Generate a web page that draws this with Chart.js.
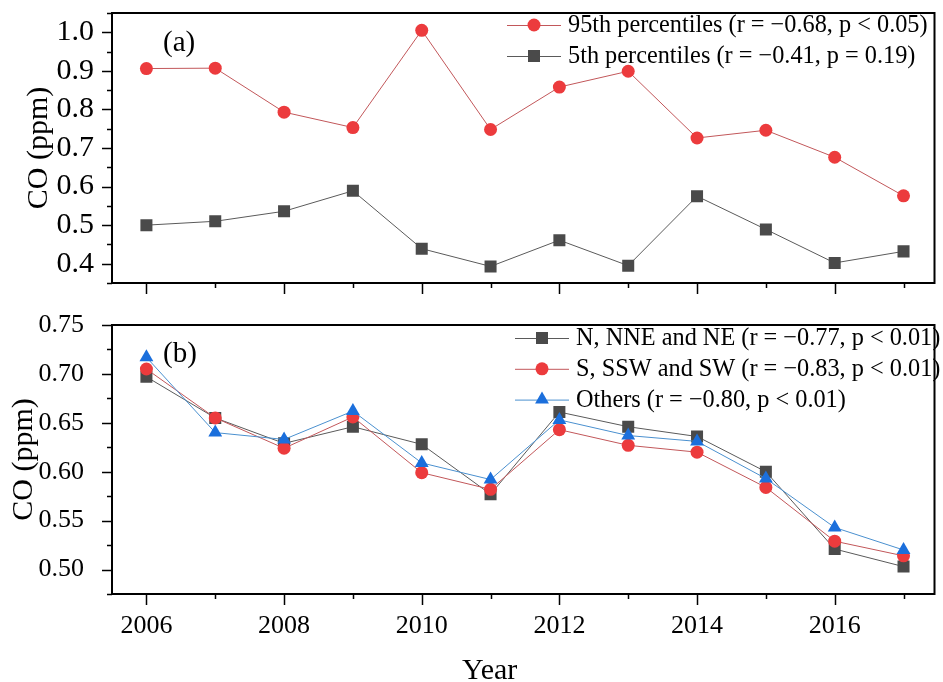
<!DOCTYPE html>
<html>
<head>
<meta charset="utf-8">
<script src="https://cdn.jsdelivr.net/npm/chart.js@4.4.0/dist/chart.umd.min.js"></script>
<style>
html, body { margin: 0; padding: 0; background: #fff; }
#wrap { position: relative; width: 943px; height: 682px; font-family: "Liberation Serif", "Times New Roman", serif; }
#topBox { position: absolute; left: 0; top: 0; width: 943px; height: 300px; }
#botBox { position: absolute; left: 0; top: 300px; width: 943px; height: 382px; }
.lbl { position: absolute; font-size: 29px; line-height: 1; color: #000; white-space: nowrap; }
</style>
</head>
<body>
<div id="wrap">
  <div id="topBox"><canvas id="chartA"></canvas></div>
  <div id="botBox"><canvas id="chartB"></canvas></div>
  <div class="lbl" style="left:163px;top:27px">(a)</div>
  <div class="lbl" style="left:163px;top:338px">(b)</div>
  <div class="lbl" style="left:462px;top:654px;font-size:30px">Year</div>
</div>
<script>
// years on the x axis
const years = [2006, 2007, 2008, 2009, 2010, 2011, 2012, 2013, 2014, 2015, 2016, 2017];

// panel (a): percentiles
const p95 = [0.906, 0.907, 0.793, 0.753, 1.005, 0.748, 0.858, 0.899, 0.726, 0.746, 0.676, 0.576];
const p5  = [0.500, 0.510, 0.536, 0.589, 0.439, 0.393, 0.461, 0.395, 0.575, 0.489, 0.402, 0.432];

// panel (b): wind sectors
const northNE = [0.697, 0.655, 0.629, 0.646, 0.628, 0.577, 0.661, 0.646, 0.636, 0.600, 0.521, 0.503];
const southSW = [0.705, 0.655, 0.624, 0.656, 0.599, 0.582, 0.643, 0.627, 0.620, 0.584, 0.529, 0.514];
const others  = [0.717, 0.640, 0.633, 0.662, 0.609, 0.592, 0.653, 0.637, 0.631, 0.593, 0.543, 0.520];

const labelsA = ['95th percentiles (r = \u22120.68, p < 0.05)', '5th percentiles (r = \u22120.41, p = 0.19)'];
const labelsB = ['N, NNE and NE (r = \u22120.77, p < 0.01)', 'S, SSW and SW (r = \u22120.83, p < 0.01)', 'Others (r = \u22120.80, p < 0.01)'];

const RED = '#ec3b3d', RED_LINE = '#c2575a';
const GRAY = '#4a4a4a', GRAY_LINE = '#5a5a5a';
const BLUE = '#1b6fdc', BLUE_LINE = '#4a90cf';
const FONT = '"Liberation Serif", "Times New Roman", serif';

const pts = vals => vals.map((v, i) => ({ x: years[i], y: v }));

function series(label, vals, color, line, style, r, order) {
  return {
    label, data: pts(vals), order,
    borderColor: line, borderWidth: 1,
    pointStyle: style, pointRadius: r, pointHoverRadius: r,
    pointBackgroundColor: color, pointBorderColor: color, pointBorderWidth: 0,
    tension: 0
  };
}

// frame, outward ticks, and a line+marker legend
const decor = {
  id: 'decor',
  afterDraw(chart, args, opts) {
    const ctx = chart.ctx, a = chart.chartArea;
    const xs = chart.scales.x, ys = chart.scales.y;
    ctx.save();
    ctx.strokeStyle = '#000';
    ctx.lineWidth = 2;
    ctx.strokeRect(a.left, a.top, a.right - a.left, a.bottom - a.top);
    ctx.lineWidth = 1.5;
    ctx.beginPath();
    ys.ticks.forEach(t => {
      const y = Math.round(ys.getPixelForValue(t.value)) + 0.5;
      const major = Math.abs(t.value / opts.yMajor - Math.round(t.value / opts.yMajor)) < 1e-6;
      const len = major ? 10 : 5;
      ctx.moveTo(a.left, y); ctx.lineTo(a.left - len, y);
    });
    xs.ticks.forEach(t => {
      if (!Number.isInteger(t.value)) return;
      const x = Math.round(xs.getPixelForValue(t.value)) + 0.5;
      const len = t.value % 2 === 0 ? 11 : 5;
      ctx.moveTo(x, a.bottom); ctx.lineTo(x, a.bottom + len);
    });
    ctx.stroke();

    // legend
    ctx.font = opts.legendFont + 'px ' + FONT;
    ctx.textBaseline = 'middle';
    ctx.textAlign = 'left';
    chart.data.datasets.forEach((ds, i) => {
      const y = opts.legendY + i * opts.legendStep;
      const x0 = opts.legendX;
      ctx.strokeStyle = ds.borderColor;
      ctx.lineWidth = 1;
      ctx.beginPath();
      ctx.moveTo(x0, y + 0.5); ctx.lineTo(x0 + 54, y + 0.5);
      ctx.stroke();
      ctx.fillStyle = ds.pointBackgroundColor;
      Chart.helpers.drawPoint(ctx, { pointStyle: ds.pointStyle, radius: ds.pointRadius, rotation: 0, borderWidth: 0 }, x0 + 27, y);
      ctx.fillStyle = '#000';
      ctx.fillText(ds.label, x0 + 61, y + 1);
    });
    ctx.restore();
  }
};

function makeChart(id, datasets, cfg) {
  return new Chart(document.getElementById(id), {
    type: 'line',
    data: { datasets },
    plugins: [decor],
    options: {
      responsive: true,
      maintainAspectRatio: false,
      animation: false,
      layout: { padding: { top: cfg.padTop, right: 4, left: 0, bottom: 0 } },
      plugins: {
        legend: { display: false },
        tooltip: { enabled: false },
        decor: cfg.decor
      },
      scales: {
        x: {
          type: 'linear', min: 2005.5, max: 2017.45,
          grid: { display: false }, border: { display: false },
          ticks: {
            stepSize: 1, autoSkip: false, maxRotation: 0, padding: cfg.xPad,
            includeBounds: false,
            display: cfg.xLabels,
            color: '#000', font: { family: FONT, size: cfg.xFont },
            callback: v => (Number.isInteger(v) && v % 2 === 0) ? String(v) : ''
          },
          afterFit: s => {
            s.height = cfg.xHeight;
            s.paddingLeft = 0; s.paddingRight = 0;
          }
        },
        y: {
          min: cfg.yMin, max: cfg.yMax,
          grid: { display: false }, border: { display: false },
          ticks: {
            stepSize: cfg.yStep, autoSkip: false, padding: cfg.yPad,
            color: '#000', font: { family: FONT, size: cfg.yFont },
            callback: v => {
              const k = v / cfg.yMajor;
              return Math.abs(k - Math.round(k)) < 1e-6 ? v.toFixed(cfg.dec) : '';
            }
          },
          title: {
            display: true, text: 'CO (ppm)', color: '#000',
            font: { family: FONT, size: 30 }, padding: { top: cfg.titlePad, bottom: 0 }
          },
          afterFit: s => {
            s.width = 112;
            s.paddingTop = 0; s.paddingBottom = 0;
          }
        }
      }
    }
  });
}

makeChart('chartA', [
  series(labelsA[0], p95, RED, RED_LINE, 'circle', 6.5, 1),
  series(labelsA[1], p5, GRAY, GRAY_LINE, 'rect', 8.5, 2)
], {
  padTop: 13, xHeight: 17, xLabels: false, xPad: 0, xFont: 26,
  yMin: 0.35, yMax: 1.05, yStep: 0.05, yMajor: 0.1, dec: 1, yFont: 30, yPad: 10, titlePad: 21,
  decor: { yMajor: 0.1, legendX: 507, legendY: 25, legendStep: 31, legendFont: 24.3 }
});

makeChart('chartB', [
  series(labelsB[0], northNE, GRAY, GRAY_LINE, 'rect', 8.5, 3),
  series(labelsB[1], southSW, RED, RED_LINE, 'circle', 6.5, 2),
  series(labelsB[2], others, BLUE, BLUE_LINE, 'triangle', 8, 1)
], {
  padTop: 25, xHeight: 88, xLabels: true, xPad: 9, xFont: 26,
  yMin: 0.475, yMax: 0.75, yStep: 0.025, yMajor: 0.05, dec: 2, yFont: 26, yPad: 20, titlePad: 6,
  decor: { yMajor: 0.05, legendX: 515, legendY: 38, legendStep: 30.8, legendFont: 24.3 }
});
</script>
</body>
</html>
